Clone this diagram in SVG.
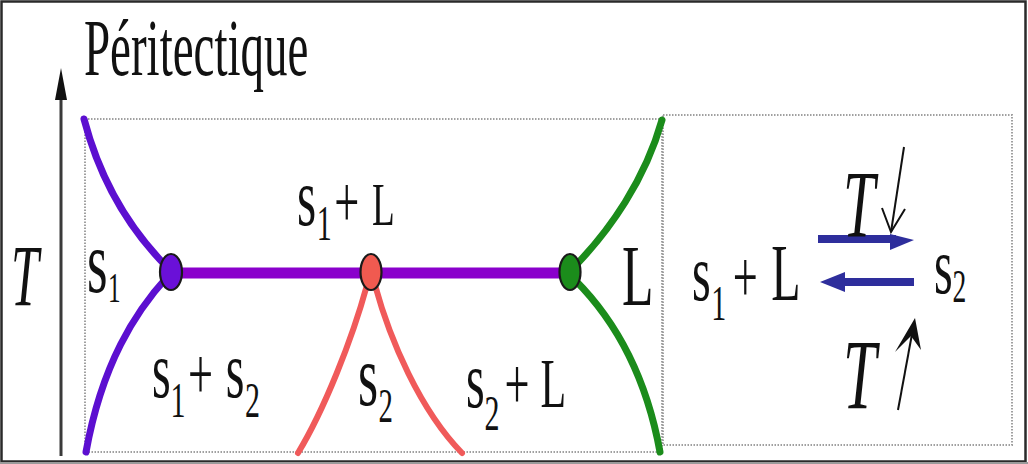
<svg xmlns="http://www.w3.org/2000/svg" width="1028" height="464" viewBox="0 0 1028 464">
<style>
.lbl{font-family:"Liberation Serif","Times New Roman",serif;fill:#111}
.it{font-style:italic}
.box{fill:none;stroke:#a0a0a0;stroke-width:2;stroke-dasharray:1.5 1.5}
.pcurve{fill:none;stroke:#5c0fd0;stroke-width:7;stroke-linecap:round}
.rcurve{fill:none;stroke:#f05a5a;stroke-width:6;stroke-linecap:round}
.gcurve{fill:none;stroke:#1b8c1b;stroke-width:7;stroke-linecap:round}
.dot{stroke:#1a1a1a;stroke-width:2.2}
.blue{stroke:#2e2e9c;stroke-width:8;fill:none}
.bluehead{fill:#2e2e9c}
.thin{stroke:#111;stroke-width:2;fill:none}
</style>
<rect x="0" y="0" width="1028" height="464" fill="#fff"/>
<g id="frame">
<rect x="1.5" y="1.5" width="1024" height="460" fill="none" stroke="#2a2a2a" stroke-width="2.5"/>
<line x1="0" y1="463" x2="1028" y2="463" stroke="#9a9a9a" stroke-width="2"/>
</g>
<g id="title"><text class="lbl" transform="translate(84,75) scale(0.58,1)" font-size="81">Péritectique</text></g>
<g id="axis">
<line x1="61" y1="456" x2="61" y2="96" stroke="#3a3a3a" stroke-width="3"/>
<polygon points="61,68 55,100 67,100" fill="#111"/>
<text class="lbl it" transform="translate(11,305) scale(0.58,1)" font-size="86">T</text>
</g>
<g id="box-left"><rect class="box" x="85" y="119" width="577" height="333"/></g>
<g id="box-right"><rect class="box" x="663" y="115" width="349" height="330"/></g>
<g id="connectors">
<path class="pcurve" d="M84,119 C100,180 130,230 168,268"/>
<path class="pcurve" d="M168,276 C135,312 102,364 86,452"/>
<line x1="171" y1="273" x2="570" y2="273" stroke="#8a00cc" stroke-width="11"/>
<path class="rcurve" d="M367,285 C352,340 324,410 298,453"/>
<path class="rcurve" d="M375,285 C390,340 420,410 462,453"/>
<path class="gcurve" d="M575,266 C610,230 645,180 662,120"/>
<path class="gcurve" d="M575,280 C610,315 645,370 660,452"/>
<line class="blue" x1="818" y1="239" x2="896" y2="239"/>
<polygon class="bluehead" points="890,234 914,240 890,250"/>
<line class="blue" x1="914" y1="282" x2="840" y2="282"/>
<polygon class="bluehead" points="820,282 845,272 845,292"/>
<line class="thin" x1="904" y1="147" x2="891" y2="232"/>
<polyline class="thin" points="882,208 891,232 905,209"/>
<line class="thin" x1="898" y1="410" x2="912" y2="334"/>
<polygon points="915,318 895,352 911,336 921,350" fill="#111"/>
</g>
<g id="node-s1"><ellipse class="dot" cx="171" cy="272" rx="11" ry="18" fill="#6a10d8"/></g>
<g id="node-s2"><ellipse class="dot" cx="371" cy="272" rx="10.5" ry="18" fill="#f05a50"/></g>
<g id="node-L"><ellipse class="dot" cx="570" cy="272" rx="10.5" ry="18" fill="#1b8c1b"/></g>
<g id="labels">
<text class="lbl" transform="translate(297,225) scale(0.6,1)"><tspan x="0" y="0" font-size="82">s</tspan><tspan x="33" y="15" font-size="50">1</tspan><tspan x="62" y="2" font-size="74">+</tspan><tspan x="125" y="0" font-size="62">L</tspan></text>
<text class="lbl" transform="translate(152,397) scale(0.6,1)"><tspan x="0" y="0" font-size="80">s</tspan><tspan x="31" y="20" font-size="50">1</tspan><tspan x="60" y="2" font-size="74">+</tspan><tspan x="123" y="0" font-size="80">s</tspan><tspan x="155" y="20" font-size="50">2</tspan></text>
<text class="lbl" transform="translate(87,292) scale(0.6,1)"><tspan x="0" y="0" font-size="88">s</tspan><tspan x="35" y="10" font-size="42">1</tspan></text>
<text class="lbl" transform="translate(358,405) scale(0.6,1)"><tspan x="0" y="0" font-size="86">s</tspan><tspan x="34" y="17" font-size="48">2</tspan></text>
<text class="lbl" transform="translate(466,407) scale(0.6,1)"><tspan x="0" y="0" font-size="80">s</tspan><tspan x="31" y="23" font-size="50">2</tspan><tspan x="64" y="2" font-size="74">+</tspan><tspan x="124" y="0" font-size="70">L</tspan></text>
<text class="lbl" transform="translate(622,305) scale(0.6,1)" font-size="86">L</text>
<text class="lbl" transform="translate(692,300) scale(0.6,1)"><tspan x="0" y="0" font-size="80">s</tspan><tspan x="32" y="20" font-size="50">1</tspan><tspan x="68" y="2" font-size="74">+</tspan><tspan x="132" y="0" font-size="80">L</tspan></text>
<text class="lbl" transform="translate(934,293) scale(0.6,1)"><tspan x="0" y="0" font-size="80">s</tspan><tspan x="31" y="9" font-size="46">2</tspan></text>
<text class="lbl it" transform="translate(843,237) scale(0.6,1)" font-size="96">T</text>
<text class="lbl it" transform="translate(843,408) scale(0.6,1)" font-size="100">T</text>
</g>
</svg>
